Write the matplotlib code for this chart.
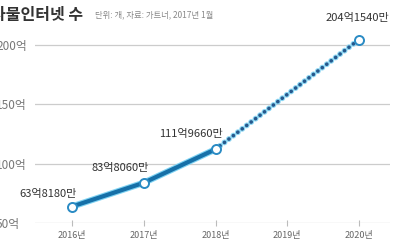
import matplotlib
matplotlib.use("Agg")
import matplotlib.pyplot as plt
import matplotlib.patheffects as pe

plt.rcParams['font.family'] = ['Noto Sans CJK KR', 'DejaVu Sans']

# 사물인터넷 수 (억 단위)
years = [2016, 2017, 2018, 2019, 2020]
year_labels = ['2016년', '2017년', '2018년', '2019년', '2020년']
actual_years = [2016, 2017, 2018]
actual_vals = [63.818, 83.806, 111.966]
fcst_years = [2018, 2020]
fcst_vals = [111.966, 204.154]
point_years = [2016, 2017, 2018, 2020]
point_vals = [63.818, 83.806, 111.966, 204.154]
point_labels = ['63억8180만', '83억8060만', '111억9660만', '204억1540만']
label_offsets = [(-24, 13), (-24, 15), (-25, 15), (-2, 22)]
yticks = [50, 100, 150, 200]
ytick_labels = ['50억', '100억', '150억', '200억']

fig = plt.figure(figsize=(3.99, 2.41), dpi=100)
ax = fig.add_axes([35/399, 18/241, 355/399, 193/241])

ax.plot(actual_years, actual_vals, color='#1670a8', lw=3.0,
        solid_capstyle='round',
        path_effects=[pe.Stroke(linewidth=4.6, foreground='#7fd3f3'), pe.Normal()],
        zorder=3, clip_on=False)
ax.plot(fcst_years, fcst_vals, color='#25588c', lw=2.6,
        linestyle=(0, (0.05, 1.5)), dash_capstyle='round',
        path_effects=[pe.Stroke(linewidth=4.2, foreground='#8fd8f4'), pe.Normal()],
        zorder=3, clip_on=False)
ax.plot(point_years, point_vals, 'o', ms=6.5, mfc='white', mec='#2a8bc4', mew=1.4,
        zorder=4, clip_on=False)

for x, y, s, off in zip(point_years, point_vals, point_labels, label_offsets):
    ax.annotate(s, (x, y), xytext=off, textcoords='offset pixels',
                ha='center', va='center', fontsize=8, color='#333333')

ax.set_xlim(2015.484, 2020.432)
ax.set_ylim(50, 212.2)
ax.set_xticks(years)
ax.set_xticklabels(year_labels, fontsize=6.5, color='#666666')
ax.set_yticks(yticks)
ax.set_yticklabels(ytick_labels, fontsize=8.5, color='#777777', ha='left')
ax.tick_params(axis='y', length=0, pad=28)
ax.tick_params(axis='x', direction='inout', length=5, color='#bbbbbb', pad=3)
ax.grid(axis='y', color='#cccccc', lw=0.9)
ax.set_axisbelow(True)
for sp in ax.spines.values():
    sp.set_visible(False)

fig.text(-9/399, 1 - 15/241, '사물인터넷 수', fontsize=11.5, fontweight='bold',
         color='#333333', va='center', ha='left')
fig.text(95/399, 1 - 15/241, '단위: 개, 자료: 가트너, 2017년 1월', fontsize=6,
         color='#888888', va='center', ha='left')

fig.savefig('out.png', dpi=100)
